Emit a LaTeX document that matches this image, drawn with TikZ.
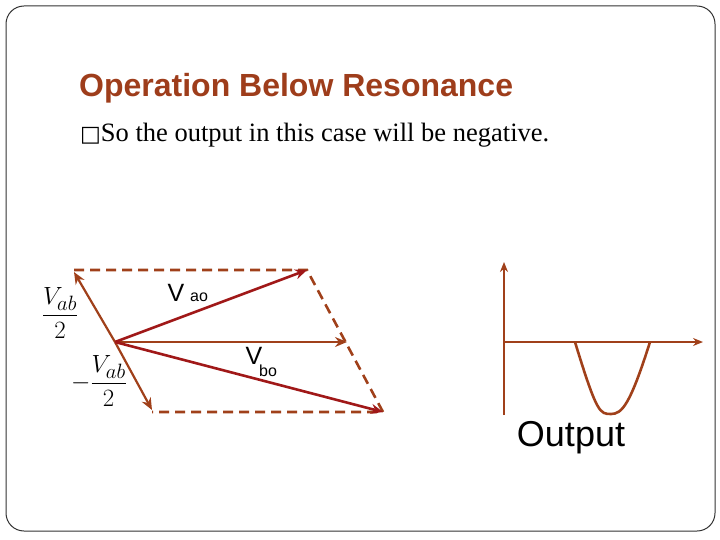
\documentclass[tikz,border=0pt]{standalone}
\usepackage{amsmath}
\usepackage{fontspec}
\setmainfont{Liberation Serif}
\newfontfamily\arialf{Liberation Sans}
\newfontfamily\djv{DejaVu Sans}
\usetikzlibrary{arrows.meta}
\definecolor{brn}{HTML}{A0401A}
\definecolor{dred}{HTML}{A01818}
\definecolor{ttl}{HTML}{9E3D1B}
\begin{document}
\begin{tikzpicture}[x=1pt,y=-1pt,
  vec/.style={line width=2.6pt,-{Stealth[length=12pt,width=10pt]}},
  dsh/.style={brn,line width=2.6pt,dash pattern=on 10pt off 6pt},
  lbl/.style={font=\arialf\fontsize{25}{28}\selectfont,inner sep=0pt},
  sub/.style={font=\arialf\fontsize{16}{18}\selectfont,inner sep=0pt}]
\useasboundingbox (0,0) rectangle (720,540);
\draw[black!80,line width=1pt,rounded corners=18pt] (6,6) rectangle (715,531);
\node[anchor=west,text=ttl,font=\arialf\bfseries\fontsize{32}{36}\selectfont,inner sep=0pt] (title) at (79,88) {Operation Below Resonance};
\node[anchor=west,font=\fontsize{26.5}{30}\selectfont,inner sep=0pt] (bul) at (80,135) {{\djv\fontsize{22}{24}\selectfont □}So the output in this case will be negative.};
% vectors
\coordinate (O) at (115,342);
\coordinate (A) at (74,272);
\coordinate (B) at (152,410);
\coordinate (C) at (307,270);
\coordinate (D) at (383,412);
\coordinate (E) at (347,342);
\coordinate (TL) at (74,270);
\coordinate (BL) at (152,412);
\draw[dsh] (TL) -- (C) -- (D) -- (BL);
\draw[vec,brn,line width=2.2pt] (O) -- (A);
\draw[vec,brn,line width=2.2pt] (O) -- (B);
\draw[vec,brn,line width=1.8pt] (O) -- (E);
\draw[vec,dred] (O) -- (C);
\draw[vec,dred] (O) -- (D);
\node[inner sep=0pt,font=\fontsize{30}{34}\selectfont] (f1) at (60,313) {$\dfrac{V_{ab}}{2}$};
\node[inner sep=0pt,font=\fontsize{30}{34}\selectfont] (f2) at (99,381) {$-\dfrac{V_{ab}}{2}$};
\node[lbl] (vao) at (176,293) {V};
\node[sub] (ao) at (199,297) {ao};
\node[lbl] (vbo) at (254,356) {V};
\node[sub] (bo) at (268,371) {bo};
% output graph
\coordinate (Y0) at (504,415);
\coordinate (Y1) at (504,262);
\coordinate (X0) at (504,342);
\coordinate (X1) at (703,342);
\draw[brn,line width=2.2pt,-{Stealth[length=10pt,width=8pt]}] (Y0) -- (Y1);
\draw[brn,line width=2.2pt,-{Stealth[length=10pt,width=8pt]}] (X0) -- (X1);
\draw[brn,line width=2.6pt] (575,342) .. controls (597,414) and (600,414) .. (611,414) .. controls (622,414) and (630,405) .. (650,342);
\node[inner sep=0pt,font=\arialf\fontsize{36}{40}\selectfont] (out) at (571,438) {Output};
\end{tikzpicture}
\end{document}
